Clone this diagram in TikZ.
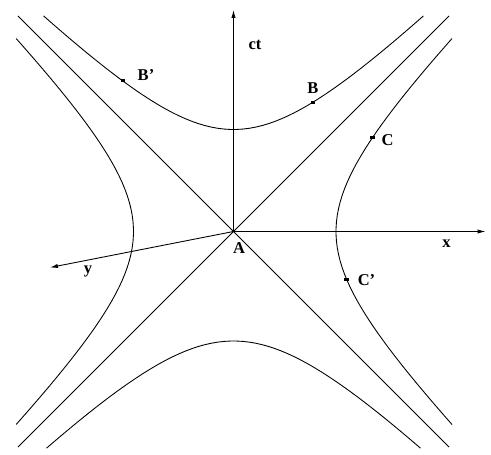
\documentclass[tikz,border=0pt]{standalone}
\usepackage{fontspec}
\setmainfont{Liberation Serif}
\usetikzlibrary{arrows.meta}

\begin{document}
\begin{tikzpicture}[>={Latex[length=4.5pt,width=2.4pt]}, x=2cm, y=2cm, line width=0.5pt, lbl/.style={font=\bfseries\fontsize{9.4}{11}\selectfont, inner sep=0pt}, event/.style={fill, inner sep=0pt, minimum width=2.4pt, minimum height=1.6pt}]

            \useasboundingbox (-2.335,-2.235) rectangle (2.575,2.315);

            \coordinate (A) at (0,0);
            \coordinate (t) at (0,2.215);
            \coordinate (x) at (2.52,0);
            \coordinate (y) at (-1.835,-0.36);
            \coordinate (ul) at (-2.155,2.155);
            \coordinate (ur) at (2.155,2.155);
            \coordinate (ll) at (-2.155,-2.155);
            \coordinate (lr) at (2.155,-2.155);

            % axes
            \draw[->] (A) to (t);
            \draw[->] (A) to (x);
            \draw[->] (A) to (y);

            % light cone
            \draw[-] (ul) to (lr);
            \draw[-] (ll) to (ur);

            % hyperbolas
            \draw plot[domain=-1.9:1.9, samples=60] (\x, {sqrt(\x*\x+1.02*1.02)});
            \draw plot[domain=-1.87:1.87, samples=60] (\x, {-sqrt(\x*\x+1.095*1.095)});
            \draw plot[domain=-1.93:1.93, samples=60] ({-sqrt(\x*\x+1.0)}, \x);
            \draw plot[domain=-1.93:1.93, samples=60] ({sqrt(\x*\x+1.025*1.025)}, \x);

            \node[event] (B) at (0.795,1.293) {};
            \node[event] (B') at (-1.108,1.506) {};
            \node[event] (C) at (1.389,0.938) {};
            \node[event] (C') at (1.131,-0.478) {};

            \node[lbl] (Alab) at (0.055,-0.165) {A};
            \node[lbl] (Blab) at (0.795,1.435) {B};
            \node[lbl] (B'lab) at (-0.875,1.565) {B'};
            \node[lbl] (Clab) at (1.54,0.915) {C};
            \node[lbl] (C'lab) at (1.33,-0.485) {C'};
            \node[lbl] (tlab) at (0.215,1.865) {ct};
            \node[lbl] (xlab) at (2.13,-0.125) {x};
            \node[lbl] (ylab) at (-1.455,-0.395) {y};

        \end{tikzpicture}
\end{document}
